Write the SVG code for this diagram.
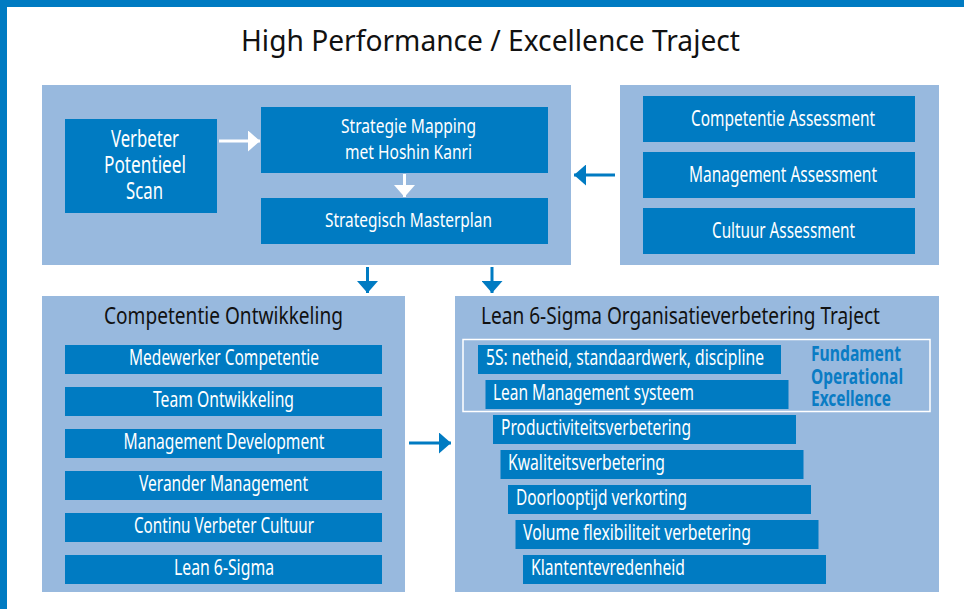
<svg xmlns="http://www.w3.org/2000/svg" width="964" height="609" viewBox="0 0 964 609">
<style>
.frame{fill:#007BC2}
.panel{fill:#98B9DE}
.box{fill:#007BC2}
.wt{fill:#ffffff;font-family:"Noto Sans","Open Sans",sans-serif}
.c{text-anchor:middle}
.bt{fill:#111111;font-family:"Noto Sans","Open Sans",sans-serif}
.fund{fill:#0A7CC4;font-family:"Noto Sans","Open Sans",sans-serif;font-weight:bold;font-size:22px}
.conn{fill:none;stroke-width:3}
</style>
<defs>
<marker id="ahB" markerUnits="userSpaceOnUse" markerWidth="12" markerHeight="21" refX="12" refY="10.5" orient="auto"><path d="M0,0 L12,10.5 L0,21 Z" fill="#007BC2"/></marker>
<marker id="ahW" markerUnits="userSpaceOnUse" markerWidth="12" markerHeight="21" refX="12" refY="10.5" orient="auto"><path d="M0,0 L12,10.5 L0,21 Z" fill="#ffffff"/></marker>
</defs>
<rect width="964" height="609" fill="#ffffff"/>
<rect class="frame" x="0" y="0" width="964" height="7"/>
<rect class="frame" x="0" y="0" width="7" height="609"/>
<text class="bt c" x="490.5" y="51" font-size="29" textLength="499" lengthAdjust="spacingAndGlyphs">High Performance / Excellence Traject</text>

<g id="panel-top-left">
<rect class="panel" x="42" y="85" width="529" height="180"/>
</g>
<g id="node-verbeter">
<rect class="box" x="65" y="119" width="152" height="94"/>
<text class="wt c" x="145" y="147" font-size="23" textLength="68" lengthAdjust="spacingAndGlyphs">Verbeter</text>
<text class="wt c" x="145" y="173" font-size="23" textLength="82" lengthAdjust="spacingAndGlyphs">Potentieel</text>
<text class="wt c" x="144.5" y="199" font-size="23" textLength="37" lengthAdjust="spacingAndGlyphs">Scan</text>
</g>
<g id="node-strategie-mapping">
<rect class="box" x="261" y="107" width="287" height="66"/>
<text class="wt c" x="408.5" y="133" font-size="20" textLength="135" lengthAdjust="spacingAndGlyphs">Strategie Mapping</text>
<text class="wt c" x="408.5" y="159" font-size="20" textLength="127" lengthAdjust="spacingAndGlyphs">met Hoshin Kanri</text>
</g>
<g id="node-masterplan">
<rect class="box" x="261" y="198" width="287" height="46"/>
<text class="wt c" x="408.5" y="227" font-size="20" textLength="167" lengthAdjust="spacingAndGlyphs">Strategisch Masterplan</text>
</g>

<g id="panel-assessments">
<rect class="panel" x="620" y="85" width="319" height="180"/>
</g>
<g id="node-competentie-assessment">
<rect class="box" x="643" y="96" width="272" height="46"/>
<text class="wt c" x="783" y="126" font-size="22" textLength="184" lengthAdjust="spacingAndGlyphs">Competentie Assessment</text>
</g>
<g id="node-management-assessment">
<rect class="box" x="643" y="152" width="272" height="46"/>
<text class="wt c" x="783" y="182" font-size="22" textLength="188" lengthAdjust="spacingAndGlyphs">Management Assessment</text>
</g>
<g id="node-cultuur-assessment">
<rect class="box" x="643" y="208" width="272" height="46"/>
<text class="wt c" x="783.5" y="238" font-size="22" textLength="143" lengthAdjust="spacingAndGlyphs">Cultuur Assessment</text>
</g>

<g id="panel-competentie-ontwikkeling">
<rect class="panel" x="42" y="296" width="363" height="296"/>
<text class="bt c" x="223.5" y="324" font-size="24" textLength="239" lengthAdjust="spacingAndGlyphs">Competentie Ontwikkeling</text>
</g>
<g id="node-medewerker">
<rect class="box" x="65" y="345" width="317" height="29"/>
<text class="wt c" x="224" y="365" font-size="22" textLength="190" lengthAdjust="spacingAndGlyphs">Medewerker Competentie</text>
</g>
<g id="node-team">
<rect class="box" x="65" y="387" width="317" height="29"/>
<text class="wt c" x="223.5" y="407" font-size="22" textLength="141" lengthAdjust="spacingAndGlyphs">Team Ontwikkeling</text>
</g>
<g id="node-mgmt-dev">
<rect class="box" x="65" y="429" width="317" height="29"/>
<text class="wt c" x="224" y="449" font-size="22" textLength="201" lengthAdjust="spacingAndGlyphs">Management Development</text>
</g>
<g id="node-verander">
<rect class="box" x="65" y="471" width="317" height="29"/>
<text class="wt c" x="223.5" y="491" font-size="22" textLength="169" lengthAdjust="spacingAndGlyphs">Verander Management</text>
</g>
<g id="node-continu">
<rect class="box" x="65" y="513" width="317" height="29"/>
<text class="wt c" x="224" y="533" font-size="22" textLength="180" lengthAdjust="spacingAndGlyphs">Continu Verbeter Cultuur</text>
</g>
<g id="node-lean6sigma">
<rect class="box" x="65" y="555" width="317" height="29"/>
<text class="wt c" x="224" y="575" font-size="22" textLength="100" lengthAdjust="spacingAndGlyphs">Lean 6-Sigma</text>
</g>

<g id="panel-lean-traject">
<rect class="panel" x="455" y="296" width="484" height="296"/>
<text class="bt" x="481" y="324" font-size="24" textLength="399" lengthAdjust="spacingAndGlyphs">Lean 6-Sigma Organisatieverbetering Traject</text>
</g>
<g id="group-fundament">
<rect x="463" y="339.5" width="467" height="72" fill="none" stroke="#ffffff" stroke-width="1.5"/>
<text class="fund" x="811" y="361" textLength="90" lengthAdjust="spacingAndGlyphs">Fundament</text>
<text class="fund" x="811" y="383.5" textLength="92" lengthAdjust="spacingAndGlyphs">Operational</text>
<text class="fund" x="811" y="406" textLength="80" lengthAdjust="spacingAndGlyphs">Excellence</text>
</g>
<g id="node-5s">
<rect class="box" x="478" y="345" width="303" height="29"/>
<text class="wt" x="486" y="364.5" font-size="21" textLength="278" lengthAdjust="spacingAndGlyphs">5S: netheid, standaardwerk, discipline</text>
</g>
<g id="node-lean-mgmt">
<rect class="box" x="485.5" y="380" width="303" height="29"/>
<text class="wt" x="493" y="399.5" font-size="21" textLength="201" lengthAdjust="spacingAndGlyphs">Lean Management systeem</text>
</g>
<g id="node-productiviteit">
<rect class="box" x="493" y="415" width="303" height="29"/>
<text class="wt" x="501" y="434.5" font-size="21" textLength="190" lengthAdjust="spacingAndGlyphs">Productiviteitsverbetering</text>
</g>
<g id="node-kwaliteit">
<rect class="box" x="500.5" y="450" width="303" height="29"/>
<text class="wt" x="508" y="469.5" font-size="21" textLength="157" lengthAdjust="spacingAndGlyphs">Kwaliteitsverbetering</text>
</g>
<g id="node-doorlooptijd">
<rect class="box" x="508" y="485" width="303" height="29"/>
<text class="wt" x="516" y="504.5" font-size="21" textLength="171" lengthAdjust="spacingAndGlyphs">Doorlooptijd verkorting</text>
</g>
<g id="node-volume">
<rect class="box" x="515.5" y="520" width="303" height="29"/>
<text class="wt" x="523" y="539.5" font-size="21" textLength="228" lengthAdjust="spacingAndGlyphs">Volume flexibiliteit verbetering</text>
</g>
<g id="node-klanten">
<rect class="box" x="523" y="555" width="303" height="29"/>
<text class="wt" x="531" y="574.5" font-size="21" textLength="154" lengthAdjust="spacingAndGlyphs">Klantentevredenheid</text>
</g>

<g id="connectors">
<line class="conn" x1="219" y1="141" x2="260" y2="141" stroke="#ffffff" marker-end="url(#ahW)"/>
<line class="conn" x1="404.5" y1="174" x2="404.5" y2="197" stroke="#ffffff" marker-end="url(#ahW)"/>
<line class="conn" x1="615" y1="175" x2="574" y2="175" stroke="#007BC2" marker-end="url(#ahB)"/>
<line class="conn" x1="367.5" y1="267" x2="367.5" y2="293" stroke="#007BC2" marker-end="url(#ahB)"/>
<line class="conn" x1="492" y1="267" x2="492" y2="293" stroke="#007BC2" marker-end="url(#ahB)"/>
<line class="conn" x1="409" y1="443" x2="451" y2="443" stroke="#007BC2" marker-end="url(#ahB)"/>
</g>
</svg>
